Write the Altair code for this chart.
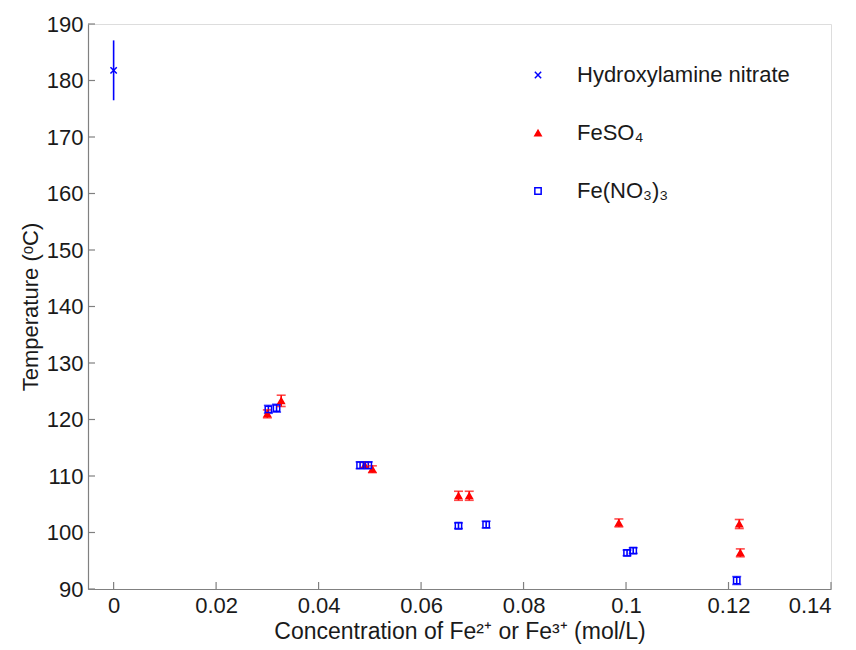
import altair as alt
import pandas as pd

# ---- data ----
series_names = ["Hydroxylamine nitrate", "FeSO₄", "Fe(NO₃)₃"]

han_conc = [0.0]
han_temp = [181.8]
han_err = [5.3]

feso4_conc = [0.0300, 0.0327, 0.0490, 0.0505, 0.0673, 0.0694, 0.0986, 0.1221, 0.1223]
feso4_temp = [121.0, 123.3, 111.9, 111.2, 106.5, 106.5, 101.7, 101.5, 96.4]
feso4_err = [0.7, 1.0, 0.5, 0.6, 0.8, 0.8, 0.7, 0.8, 0.7]

fenit_conc = [0.0302, 0.0318, 0.0481, 0.0497, 0.0673, 0.0727, 0.1002, 0.1014, 0.1216]
fenit_temp = [121.8, 122.0, 111.9, 111.9, 101.2, 101.4, 96.4, 96.8, 91.5]
fenit_err = [0.7, 0.7, 0.6, 0.6, 0.5, 0.6, 0.5, 0.5, 0.7]

x_ticks = [0, 0.02, 0.04, 0.06, 0.08, 0.1, 0.12, 0.14]
y_ticks = [90, 100, 110, 120, 130, 140, 150, 160, 170, 180, 190]

colors = ["#0000ff", "#ff0000", "#0000ff"]
fills = ["rgba(255,255,255,0)", "#ff0000", "rgba(255,255,255,0)"]
shapes = ["M-1,-1L1,1M-1,1L1,-1", "triangle-up", "square"]

rows = []
for name, cs, ts, es in [
    (series_names[0], han_conc, han_temp, han_err),
    (series_names[1], feso4_conc, feso4_temp, feso4_err),
    (series_names[2], fenit_conc, fenit_temp, fenit_err),
]:
    for c, t, e in zip(cs, ts, es):
        rows.append({"series": name, "c": c, "T": t, "lo": t - e, "hi": t + e})
df = pd.DataFrame(rows)

FONT = "Liberation Sans"
FS = 22
W, H = 743, 565

xscale = alt.Scale(domain=[-0.005, 0.14], nice=False, zero=False)
yscale = alt.Scale(domain=[90, 190], nice=False, zero=False)
cscale = alt.Scale(domain=series_names, range=colors)
fscale = alt.Scale(domain=series_names, range=fills)
sscale = alt.Scale(domain=series_names, range=shapes)

xax = alt.Axis(values=x_ticks, format="~g", grid=False, ticks=False,
               domainColor="#808080", domainWidth=1.2,
               labelFont=FONT, labelFontSize=FS, labelColor="#1a1a1a", labelPadding=6,
               titleFont=FONT, titleFontSize=23, titleFontWeight="normal",
               titleColor="#1a1a1a", titlePadding=4)
yax = alt.Axis(values=y_ticks, format="d", grid=False, ticks=False,
               domainColor="#808080", domainWidth=1.2,
               labelFont=FONT, labelFontSize=FS, labelColor="#1a1a1a", labelPadding=5,
               titleFont=FONT, titleFontSize=FS, titleFontWeight="normal",
               titleColor="#1a1a1a", titlePadding=4)

color_expr = " : ".join(
    f"datum.series == '{n}' ? '{c}'" for n, c in zip(series_names, colors)
) + " : '#000000'"

base = alt.Chart(df).transform_calculate(col=color_expr)

x_enc = alt.X("c:Q", scale=xscale, axis=xax,
              title="Concentration of Fe²⁺ or Fe³⁺ (mol/L)")
y_enc = alt.Y("lo:Q", scale=yscale, axis=yax, title="Temperature (ᵒC)")

bars = base.mark_rule(strokeWidth=1.6).encode(
    x=x_enc, y=y_enc, y2="hi:Q",
    color=alt.Color("col:N", scale=None),
)

caps_df = base.transform_filter(alt.datum.series != series_names[0])
cap_lo = caps_df.mark_tick(orient="horizontal", size=9, thickness=1.6).encode(
    x=alt.X("c:Q", scale=xscale), y=alt.Y("lo:Q", scale=yscale),
    color=alt.Color("col:N", scale=None),
)
cap_hi = caps_df.mark_tick(orient="horizontal", size=9, thickness=1.6).encode(
    x=alt.X("c:Q", scale=xscale), y=alt.Y("hi:Q", scale=yscale),
    color=alt.Color("col:N", scale=None),
)

legend = alt.Legend(title=None, orient="none", legendX=439, legendY=40,
                    labelFont=FONT, labelFontSize=FS, labelColor="#1a1a1a",
                    labelOffset=28, labelLimit=0, rowPadding=36, padding=0,
                    symbolSize=40, symbolStrokeWidth=1.5)

pts = alt.Chart(df).mark_point(filled=True, opacity=1, size=40, strokeWidth=1.5).encode(
    x=alt.X("c:Q", scale=xscale), y=alt.Y("T:Q", scale=yscale),
    stroke=alt.Stroke("series:N", scale=cscale, legend=legend),
    fill=alt.Fill("series:N", scale=fscale, legend=legend),
    shape=alt.Shape("series:N", scale=sscale, legend=legend),
)

ytick_df = pd.DataFrame({"v": y_ticks})
xtick_df = pd.DataFrame({"v": x_ticks})
yt = alt.Chart(ytick_df).mark_rule(color="#808080", strokeWidth=1.2).encode(
    y=alt.Y("v:Q", scale=yscale), x=alt.value(0), x2=alt.value(7))
xt = alt.Chart(xtick_df).mark_rule(color="#808080", strokeWidth=1.2).encode(
    x=alt.X("v:Q", scale=xscale), y=alt.value(H), y2=alt.value(H - 7))

chart = alt.layer(yt, xt, bars, cap_lo, cap_hi, pts).properties(
    width=W, height=H,
    autosize=alt.AutoSizeParams(type="none"),
    padding={"left": 88, "top": 24, "right": 25, "bottom": 61},
).configure_view(stroke=None).configure(background="white")

chart.save("out.html", embed_options={"renderer": "svg", "actions": False})
